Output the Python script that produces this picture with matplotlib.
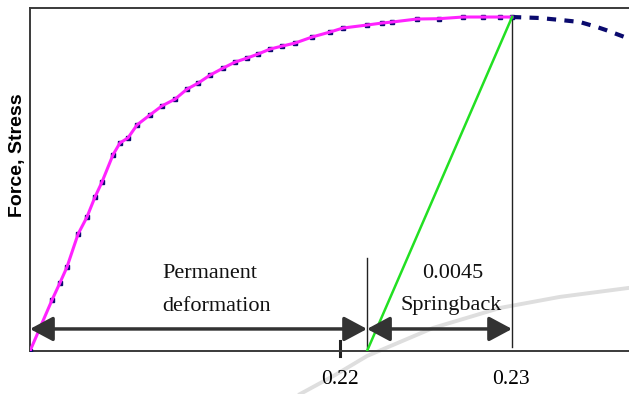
import matplotlib.pyplot as plt
import numpy as np

# --- data (strain, normalised stress) ---
load_strain = [0.20187, 0.20316, 0.20362, 0.20403, 0.20468, 0.20520, 0.20567,
               0.20608, 0.20672, 0.20713, 0.20760, 0.20813, 0.20889, 0.20959,
               0.21035, 0.21105, 0.21170, 0.21240, 0.21316, 0.21386, 0.21456,
               0.21520, 0.21591, 0.21661, 0.21737, 0.21836, 0.21941, 0.22017,
               0.22158, 0.22246, 0.22304, 0.22450, 0.22579, 0.22719, 0.22836,
               0.22936, 0.23006]
load_stress = [0.0, 0.153, 0.204, 0.251, 0.350, 0.401, 0.461, 0.506, 0.587,
               0.623, 0.638, 0.677, 0.707, 0.734, 0.754, 0.784, 0.802, 0.826,
               0.847, 0.865, 0.877, 0.889, 0.904, 0.913, 0.922, 0.940, 0.955,
               0.967, 0.976, 0.982, 0.985, 0.994, 0.995, 1.0, 1.0, 1.0, 1.0]

tail_strain = [0.23006, 0.23170, 0.23292, 0.23403, 0.23503, 0.23555, 0.23649, 0.23690]
tail_stress = [1.0, 0.997, 0.991, 0.985, 0.970, 0.961, 0.943, 0.935]

unload_strain = [0.22158, 0.23006]
unload_stress = [0.0, 1.0]

# faint grey stroke crossing the bottom of the picture
grey_strain = [0.21766, 0.21971, 0.22158, 0.22544, 0.22936, 0.23286, 0.23690]
grey_stress = [-0.129, -0.072, -0.015, 0.069, 0.129, 0.162, 0.189]

x_min, x_max = 0.20187, 0.23690
arrow_y = 0.066
tick_pos = [0.22, 0.23]
tick_lab = ['0.22', '0.23']

# --- figure ---
fig = plt.figure(figsize=(6.29, 3.94), dpi=100)
ax = fig.add_axes([30/629, 43/394, 599/629, 343/394])
ax.set_xlim(x_min, x_max)
ax.set_ylim(0, 1.027)

for s in ['left', 'top', 'bottom']:
    ax.spines[s].set_color('#3a3a3a')
    ax.spines[s].set_linewidth(1.4)
ax.spines['right'].set_visible(False)
ax.set_yticks([])
ax.set_xticks(tick_pos)
ax.set_xticklabels(tick_lab, family='Liberation Serif', fontsize=15.5)
ax.tick_params(axis='x', length=0, pad=14)

ax.plot(grey_strain, grey_stress, color='#dedede', lw=2.8, clip_on=False, zorder=1)

# navy dashed data + magenta fit
ax.plot(tail_strain, tail_stress, color='#0a0a6e', lw=3.0, dashes=(2.2, 2.0),
        solid_capstyle='butt', zorder=3)
ax.plot(load_strain, load_stress, ls='none', marker='s', ms=3.2,
        color='#0a0a6e', zorder=3)
ax.plot(load_strain, load_stress, color='#ff22ff', lw=2.2, zorder=4)

# elastic unloading line
ax.plot(unload_strain, unload_stress, color='#22e022', lw=1.8, zorder=5)

# guide lines
ax.plot([0.23006, 0.23006], [0.012, 1.0], color='#222222', lw=1.0, zorder=2)
ax.plot([0.22158, 0.22158], [0.0, 0.278], color='#222222', lw=1.0, zorder=2)
ax.plot([0.22, 0.22], [-0.015, 0.03], color='#222222', lw=2.2, clip_on=False)

style = '<|-|>,head_length=1.4,head_width=0.75'
ax.annotate('', xy=(x_min, arrow_y), xytext=(0.22158, arrow_y),
            arrowprops=dict(arrowstyle=style, color='#333333', lw=2.5,
                            shrinkA=0, shrinkB=0, mutation_scale=10), zorder=6)
ax.annotate('', xy=(0.22158, arrow_y), xytext=(0.23006, arrow_y),
            arrowprops=dict(arrowstyle=style, color='#333333', lw=2.5,
                            shrinkA=0, shrinkB=0, mutation_scale=10), zorder=6)

serif = dict(family='Liberation Serif', fontsize=16, ha='center', va='center',
             color='#111111')
ax.text(0.21240, 0.231, 'Permanent', **serif)
ax.text(0.21280, 0.132, 'deformation', **serif)
ax.text(0.22660, 0.233, '0.0045', **serif)
ax.text(0.22650, 0.137, 'Springback', **serif)

fig.text(18/629, 1 - 155/394, 'Force, Stress', rotation=90, ha='center',
         va='center', family='Liberation Sans', fontweight='bold', fontsize=14)

fig.savefig('out.png', dpi=100)
